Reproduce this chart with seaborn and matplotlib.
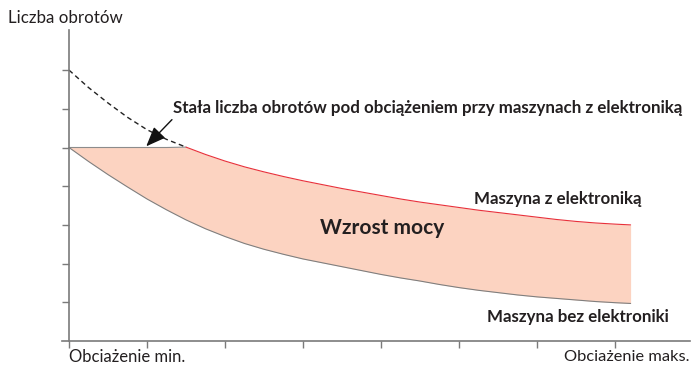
import matplotlib
matplotlib.use("Agg")
import matplotlib.pyplot as plt
import seaborn as sns
import pandas as pd

# Load axis positions (min load at 0, max load at 7.2)
load = [0.0, 0.25, 0.5, 0.75, 1.0, 1.25, 1.5, 1.75, 2.0, 2.25, 2.5, 2.75, 3.0, 3.25,
        3.5, 3.75, 4.0, 4.25, 4.5, 4.75, 5.0, 5.25, 5.5, 5.75, 6.0, 6.25, 6.5, 6.75,
        7.0, 7.2]
# Speed of the machine with electronics (held constant up to 1.5)
speed_electronic = [5.0, 5.0, 5.0, 5.0, 5.0, 5.0, 5.01, 4.82, 4.65, 4.50, 4.37, 4.25,
                    4.14, 4.04, 3.94, 3.85, 3.76, 3.67, 3.59, 3.52, 3.45, 3.38, 3.32,
                    3.26, 3.20, 3.14, 3.09, 3.05, 3.02, 3.0]
# Speed of the machine without electronics
speed_plain = [5.0, 4.64, 4.30, 3.98, 3.67, 3.39, 3.13, 2.90, 2.70, 2.52, 2.37, 2.24,
               2.12, 2.02, 1.92, 1.82, 1.72, 1.63, 1.55, 1.46, 1.38, 1.31, 1.25, 1.19,
               1.14, 1.10, 1.06, 1.02, 0.99, 0.97]
# Free-running speed curve before the constant-speed limit kicks in
load_free = [0.0, 0.25, 0.5, 0.75, 1.0, 1.25, 1.5]
speed_free = [7.0, 6.55, 6.15, 5.78, 5.46, 5.21, 5.01]

y_label = "Liczba obrotów"
x_min_label = "Obciażenie min."
x_max_label = "Obciażenie maks."
label_electronic = "Maszyna z elektroniką"
label_plain = "Maszyna bez elektroniki"
label_gain = "Wzrost mocy"
label_constant = "Stała liczba obrotów pod obciążeniem przy maszynach z elektroniką"

sns.set_theme(style="white")
plt.rcParams["font.family"] = ["Lato", "DejaVu Sans"]

df = pd.DataFrame({"load": load, "electronic": speed_electronic, "plain": speed_plain})
flat = df[df["load"] <= 1.5]
falling = df[df["load"] >= 1.5]
df_free = pd.DataFrame({"load": load_free, "speed": speed_free})

fig = plt.figure(figsize=(6.92, 3.66), dpi=100)
ax = fig.add_axes([62 / 692, 25 / 366, 628 / 692, 311 / 366])

fill_color = "#fcd3c1"
axis_color = "#7a7a7a"
text_color = "#231f20"

ax.fill_between(df["load"], df["plain"], df["electronic"], color=fill_color, lw=0, zorder=1)
sns.lineplot(data=flat, x="load", y="electronic", ax=ax, color="#8c8c8c", lw=0.8, zorder=2)
sns.lineplot(data=falling, x="load", y="electronic", ax=ax, color="#e8303a", lw=0.8, zorder=2)
sns.lineplot(data=df, x="load", y="plain", ax=ax, color="#7f7f7f", lw=0.8, zorder=2)
sns.lineplot(data=df_free, x="load", y="speed", ax=ax, color="#222222", lw=1.0,
             linestyle=(0, (3.5, 2.5)), zorder=2)

ax.set_xlim(-7 / 78, 621 / 78)
ax.set_ylim(0, 311 / 38.7)
ax.set_xticks(range(0, 8))
ax.set_yticks(range(1, 8))
ax.set_xticklabels([])
ax.set_yticklabels([])
ax.set_xlabel("")
ax.set_ylabel("")

for s in ["top", "right"]:
    ax.spines[s].set_visible(False)
ax.spines["left"].set_position(("data", 0))
for s in ["left", "bottom"]:
    ax.spines[s].set_color(axis_color)
    ax.spines[s].set_linewidth(1.2)
ax.tick_params(axis="both", which="both", direction="out", length=5, width=1.0,
               color=axis_color, left=True, bottom=True)

ax.annotate("", xy=(0.99, 5.03), xytext=(1.32, 5.72),
            arrowprops=dict(arrowstyle="-|>,head_length=1.0,head_width=0.4",
                            color="#111111", lw=1.0, shrinkA=0, shrinkB=0), zorder=3)
ax.text(1.33, 6.02, label_constant, fontsize=12.2, fontweight="bold", color=text_color,
        ha="left", va="center")
ax.text(4.01, 2.92, label_gain, fontsize=15, fontweight="bold", color=text_color,
        ha="center", va="center")
ax.text(5.19, 3.67, label_electronic, fontsize=12.2, fontweight="bold", color=text_color,
        ha="left", va="center")
ax.text(5.36, 0.62, label_plain, fontsize=12.2, fontweight="bold", color=text_color,
        ha="left", va="center")

fig.text(8 / 692, 1 - 18 / 366, y_label, fontsize=12.2, color=text_color, ha="left", va="center")
fig.text(69 / 692, 1 - 357 / 366, x_min_label, fontsize=12, color=text_color, ha="left", va="center")
fig.text(690 / 692, 1 - 357 / 366, x_max_label, fontsize=11.8, color=text_color, ha="right", va="center")

fig.savefig("out.png", dpi=100)
